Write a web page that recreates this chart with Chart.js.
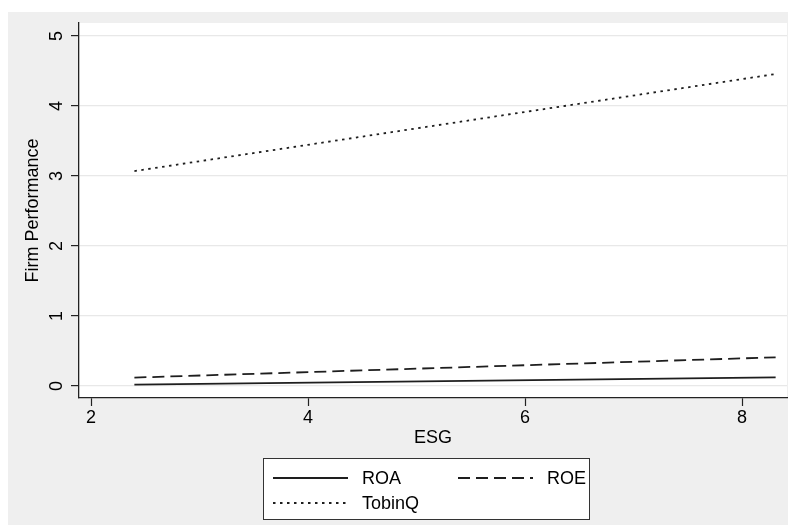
<!DOCTYPE html>
<html>
<head>
<meta charset="utf-8">
<script src="https://cdn.jsdelivr.net/npm/chart.js@4/dist/chart.umd.min.js"></script>
<style>
  html, body { margin: 0; padding: 0; background: #ffffff; }
  #wrap { width: 790px; height: 526px; }
</style>
</head>
<body>
<div id="wrap"><canvas id="c" width="790" height="526"></canvas></div>
<script>
// ---- data ----
const esg    = [2.4, 8.31];
const roa    = [0.02, 0.124];
const roe    = [0.12, 0.41];
const tobinq = [3.07, 4.457];
const seriesNames = ['ROA', 'ROE', 'TobinQ'];
const xTicks = [2, 4, 6, 8];
const yTicks = [0, 1, 2, 3, 4, 5];
const xTitle = 'ESG';
const yTitle = 'Firm Performance';

const FONT = "'Liberation Sans', Arial, Helvetica, sans-serif";
Chart.defaults.font.family = FONT;
Chart.defaults.color = '#000';

function pts(xs, ys) { return xs.map((x, i) => ({ x: x, y: ys[i] })); }

const lineCol = '#1e1e1e';
const datasets = [
  { label: seriesNames[0], data: pts(esg, roa), borderColor: lineCol, borderWidth: 1.8, borderDash: [] },
  { label: seriesNames[1], data: pts(esg, roe), borderColor: lineCol, borderWidth: 1.8, borderDash: [12, 6] },
  { label: seriesNames[2], data: pts(esg, tobinq), borderColor: lineCol, borderWidth: 1.8, borderDash: [2.5, 4.5] }
].map(d => Object.assign(d, { pointRadius: 0, tension: 0, fill: false, borderCapStyle: 'butt' }));

const bgPlugin = {
  id: 'bg',
  beforeDraw(chart) {
    const ctx = chart.ctx, a = chart.chartArea;
    ctx.save();
    ctx.fillStyle = '#ffffff';
    ctx.fillRect(0, 0, chart.width, chart.height);
    ctx.fillStyle = '#efefef';
    ctx.fillRect(8, 12, 780, 513);
    ctx.fillStyle = '#ffffff';
    ctx.fillRect(a.left, a.top, a.right - a.left, a.bottom - a.top);
    ctx.restore();
  }
};

const decoPlugin = {
  id: 'deco',
  afterDraw(chart) {
    const ctx = chart.ctx;
    const ys = chart.scales.y;
    // rotated y tick labels
    ctx.save();
    ctx.fillStyle = '#000';
    ctx.font = '18px ' + FONT;
    ctx.textAlign = 'center';
    ctx.textBaseline = 'alphabetic';
    ys.ticks.forEach(t => {
      const py = ys.getPixelForValue(t.value);
      ctx.save();
      ctx.translate(62, py);
      ctx.rotate(-Math.PI / 2);
      ctx.fillText(String(t.value), 0, 0);
      ctx.restore();
    });
    ctx.restore();

    // legend box
    const bx = 263, by = 458, bw = 326, bh = 61;
    ctx.save();
    ctx.fillStyle = '#ffffff';
    ctx.fillRect(bx, by, bw, bh);
    ctx.strokeStyle = '#333';
    ctx.lineWidth = 1;
    ctx.strokeRect(bx + 0.5, by + 0.5, bw, bh);
    const slots = [
      { sx: 273, tx: 362, y: 478 },
      { sx: 458, tx: 547, y: 478 },
      { sx: 273, tx: 362, y: 503 }
    ];
    chart.data.datasets.forEach((d, i) => {
      const s = slots[i];
      ctx.strokeStyle = d.borderColor;
      ctx.lineWidth = d.borderWidth;
      ctx.setLineDash(d.borderDash);
      ctx.lineCap = 'butt';
      ctx.beginPath();
      ctx.moveTo(s.sx, s.y);
      ctx.lineTo(s.sx + 75, s.y);
      ctx.stroke();
      ctx.setLineDash([]);
      ctx.fillStyle = '#000';
      ctx.font = '18px ' + FONT;
      ctx.textAlign = 'left';
      ctx.textBaseline = 'middle';
      ctx.fillText(d.label, s.tx, s.y + 1);
    });
    ctx.restore();
  }
};

new Chart(document.getElementById('c'), {
  type: 'line',
  data: { datasets: datasets },
  plugins: [bgPlugin, decoPlugin],
  options: {
    responsive: false,
    animation: false,
    devicePixelRatio: 1,
    layout: { padding: { left: 8, top: 23, right: 3, bottom: 73 } },
    plugins: { legend: { display: false }, tooltip: { enabled: false } },
    scales: {
      x: {
        type: 'linear',
        min: 1.8894,
        max: 8.4147,
        afterBuildTicks(s) { s.ticks = xTicks.map(v => ({ value: v })); },
        afterFit(s) { s.height = 55; },
        grid: { drawOnChartArea: false, drawTicks: true, tickLength: 8, tickColor: '#222', tickWidth: 1.2 },
        border: { display: true, color: '#222', width: 1.3 },
        ticks: { font: { size: 18 }, color: '#000', padding: 1, maxRotation: 0, minRotation: 0 },
        title: { display: true, text: xTitle, font: { size: 18 }, color: '#000', padding: { top: 0, bottom: 4 } }
      },
      y: {
        type: 'linear',
        min: -0.1714,
        max: 5.1857,
        afterBuildTicks(s) { s.ticks = yTicks.map(v => ({ value: v })); },
        afterFit(s) { s.width = 71; },
        grid: { color: '#e8e8e8', lineWidth: 1.2, drawTicks: true, tickLength: 8, tickColor: '#222', tickWidth: 1.2 },
        border: { display: true, color: '#222', width: 1.3 },
        ticks: { display: false },
        title: { display: true, text: yTitle, font: { size: 18 }, color: '#000', padding: { top: 14, bottom: 0 } }
      }
    }
  }
});
</script>
</body>
</html>
